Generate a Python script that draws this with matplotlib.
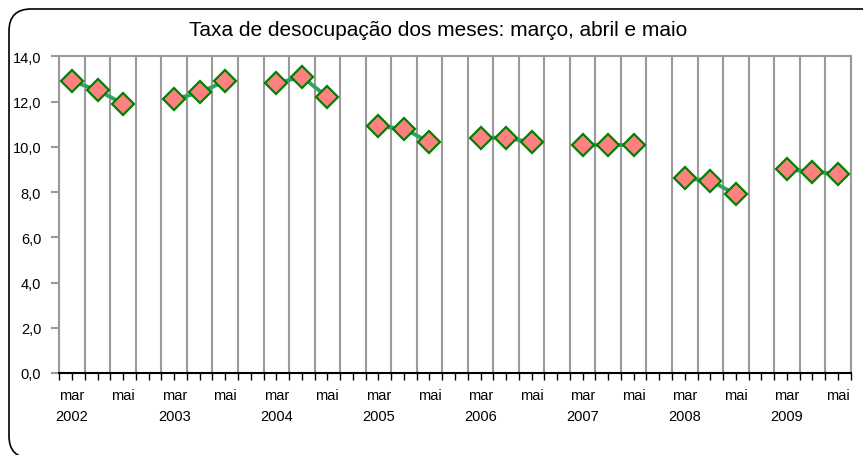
import numpy as np
import matplotlib
matplotlib.use('Agg')
import matplotlib.pyplot as plt
from matplotlib.patches import FancyBboxPatch
from matplotlib.transforms import IdentityTransform

plt.rcParams['font.family'] = ['Liberation Sans', 'DejaVu Sans']

#Data
years = ['2002', '2003', '2004', '2005', '2006', '2007', '2008', '2009']
months = ['mar', 'abr', 'mai']
mar = [12.9, 12.1, 12.8, 10.9, 10.4, 10.1, 8.6, 9.0]
abr = [12.5, 12.4, 13.1, 10.8, 10.4, 10.1, 8.5, 8.9]
mai = [11.9, 12.9, 12.2, 10.2, 10.2, 10.1, 7.9, 8.8]
title = 'Taxa de desocupação dos meses: março, abril e maio'

W, H = 863, 456
fig = plt.figure(figsize=(W / 100, H / 100), dpi=100)

#rounded frame around the chart (runs off the right edge)
frame = FancyBboxPatch((9, -3), 900, 449, boxstyle='round,pad=0,rounding_size=22',
                       transform=IdentityTransform(), facecolor='none',
                       edgecolor='black', linewidth=1.2, zorder=0)
fig.patches.append(frame)

left, right, top, bottom = 59.3, 850.7, 57.3, 374.0
ax = fig.add_axes([left / W, 1 - bottom / H, (right - left) / W, (bottom - top) / H])
ax.set_facecolor('none')

n_slots = 4 * len(years) - 1
grid_c = '#9a9a9a'
for b in np.arange(-0.5, n_slots, 1.0):
    ax.axvline(b, color=grid_c, lw=1.5, zorder=1)

for g, yr in enumerate(years):
    xs = 4 * g + np.arange(3)
    ys = [mar[g], abr[g], mai[g]]
    ax.plot(xs, ys, color='#33a066', lw=2.8, zorder=3,
            marker='D', markersize=11, markerfacecolor='#ff8080',
            markeredgecolor='#008000', markeredgewidth=1.6)

ax.set_xlim(-0.5, n_slots - 0.5)
ax.set_ylim(0, 14)

#x ticks every half slot, labels only under mar / mai
pos = np.arange(-0.5, n_slots - 0.5 + 0.01, 0.5)
labels = []
for p in pos:
    lab = ''
    if p >= 0 and p == int(p):
        g, i = divmod(int(p), 4)
        if i == 0:
            lab = 'mar\n' + years[g]
        elif i == 2:
            lab = 'mai\n '
    labels.append(lab)
ax.set_xticks(pos)
ax.set_xticklabels(labels, fontsize=10.5, linespacing=1.6)
ax.tick_params(axis='x', direction='out', length=5, width=1, color='black', pad=6)

yt = np.arange(0, 15, 2)
ax.set_yticks(yt)
ax.set_yticklabels([f'{v:.1f}'.replace('.', ',') for v in yt], fontsize=10.5)
ax.tick_params(axis='y', direction='out', length=6, width=1.5, color=grid_c, pad=7)

for s in ['left', 'top', 'right']:
    ax.spines[s].set_color(grid_c)
    ax.spines[s].set_linewidth(1.5)
ax.spines['bottom'].set_color('black')
ax.spines['bottom'].set_linewidth(1.5)
ax.spines['bottom'].set_zorder(4)

fig.text(438 / W, 1 - 30 / H, title, ha='center', va='center', fontsize=15)

fig.savefig('out.png', dpi=100)
